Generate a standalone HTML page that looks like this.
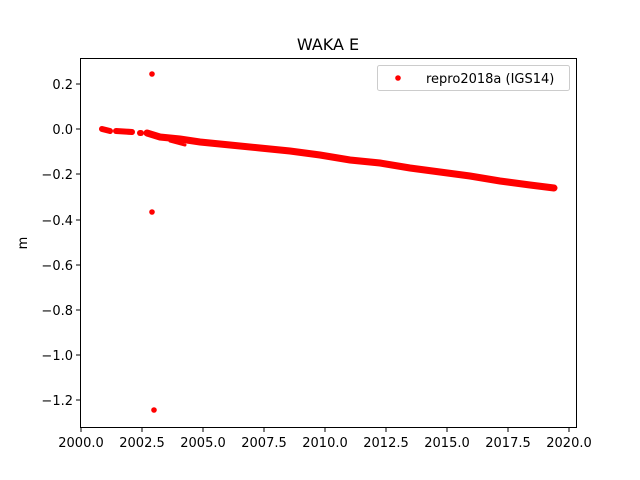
<!DOCTYPE html>
<html><head><meta charset="utf-8"><style>body{margin:0;background:#fff}svg{display:block}text{font-family:"DejaVu Sans","Liberation Sans",sans-serif;font-size:13px;fill:#000}</style></head><body>
<svg width="640" height="480" viewBox="0 0 640 480">
<text x="328" y="50" text-anchor="middle" style="font-size:16px">WAKA E</text>
<g stroke="#f00" stroke-linecap="round" fill="none">
<path d="M102 129 L110 131" stroke-width="6"/>
<path d="M116 131 L132 132" stroke-width="6"/>
<path d="M140 133 L141 133" stroke-width="6"/>
<path d="M147 133 L160 137 L180 139 L200 142 L230 145 L260 148 L290 151 L320 155 L350 160 L380 163 L410 168 L440 172 L470 176 L500 181 L530 185 L554 188" stroke-width="7"/>
<path d="M170 141 L185 145" stroke-width="3"/>
</g>
<g fill="#f00"><circle cx="152" cy="74" r="2.8"/><circle cx="152" cy="212" r="2.8"/><circle cx="154" cy="410" r="2.8"/></g>
<rect x="80.5" y="58.5" width="496" height="369" fill="none" stroke="#000" stroke-width="1"/>
<g stroke="#000">
<path d="M80 84h-4M80 129h-4M80 174h-4M80 220h-4M80 265h-4M80 310h-4M80 355h-4M80 400h-4"/>
<path d="M81 428v4M142 428v4M203 428v4M264 428v4M325 428v4M386 428v4M447 428v4M508 428v4M569 428v4"/>
</g>
<g text-anchor="end">
<text x="73" y="89">0.2</text><text x="73" y="134">0.0</text><text x="73" y="179">−0.2</text><text x="73" y="225">−0.4</text><text x="73" y="270">−0.6</text><text x="73" y="315">−0.8</text><text x="73" y="360">−1.0</text><text x="73" y="405">−1.2</text>
</g>
<g text-anchor="middle">
<text x="81" y="447">2000.0</text><text x="142" y="447">2002.5</text><text x="203" y="447">2005.0</text><text x="264" y="447">2007.5</text><text x="325" y="447">2010.0</text><text x="386" y="447">2012.5</text><text x="447" y="447">2015.0</text><text x="508" y="447">2017.5</text><text x="569" y="447">2020.0</text>
</g>
<text transform="translate(27 243) rotate(-90)" text-anchor="middle">m</text>
<rect x="377.5" y="65.5" width="192" height="25" rx="2" fill="#fff" stroke="#ccc"/>
<circle cx="398" cy="78" r="2.8" fill="#f00"/>
<text x="426" y="83">repro2018a (IGS14)</text>
</svg>
</body></html>
